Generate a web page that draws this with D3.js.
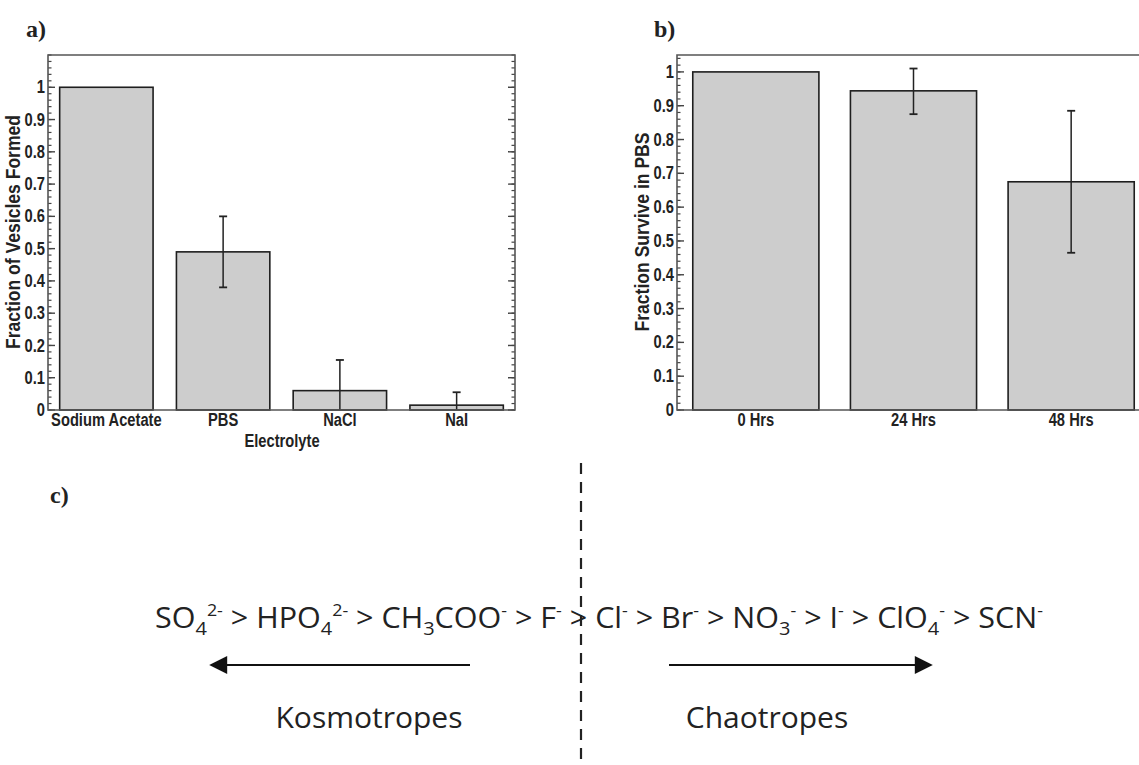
<!DOCTYPE html>
<html>
<head>
<meta charset="utf-8">
<script src="https://cdn.jsdelivr.net/npm/d3@7"></script>
<style>
  body { margin: 0; background: #fff; }
  svg text { fill: #222; }
</style>
</head>
<body>
<svg id="chart" width="1139" height="765"></svg>
<script>
// panel a data
var electrolytes = ["Sodium Acetate", "PBS", "NaCl", "NaI"];
var vesicleFrac = [1.0, 0.49, 0.06, 0.015];
var vesicleErrLo = [1.0, 0.38, 0.0, 0.0];
var vesicleErrHi = [1.0, 0.60, 0.155, 0.055];

// panel b data
var times = ["0 Hrs", "24 Hrs", "48 Hrs"];
var surviveFrac = [1.0, 0.944, 0.675];
var surviveErrLo = [1.0, 0.875, 0.465];
var surviveErrHi = [1.0, 1.01, 0.885];

// panel c series: [base, sub, sup]
var ionsLeft = [["SO", "4", "2-"], ["HPO", "4", "2-"], ["CH", "3", ""], ["COO", "", "-"], ["F", "", "-"]];
var ionsRight = [["Cl", "", "-"], ["Br", "", "-"], ["NO", "3", "-"], ["I", "", "-"], ["ClO", "4", "-"], ["SCN", "", "-"]];

var svg = d3.select("#chart");
var axisFont = "'Liberation Sans', Arial, sans-serif";
var squeeze = 0.84;   // narrow helvetica look

function barPanel(opt) {
    var g = svg.append("g");
    var x = d3.scaleBand().domain(opt.cats).range([opt.left, opt.right])
        .paddingInner(0.2).paddingOuter(0.1);
    var y = d3.scaleLinear().domain([0, opt.ymax]).range([opt.bottom, opt.top]);

    // bars
    g.selectAll("rect.bar").data(opt.vals).enter().append("rect")
        .attr("class", "bar")
        .attr("x", function(d, i){ return x(opt.cats[i]); })
        .attr("y", function(d){ return y(d); })
        .attr("width", x.bandwidth())
        .attr("height", function(d){ return y(0) - y(d); })
        .attr("fill", "#cdcdcd")
        .attr("stroke", "#1e1e1e")
        .attr("stroke-width", 1.6);

    // error bars
    opt.vals.forEach(function(v, i){
        var lo = opt.lo[i], hi = opt.hi[i];
        if (hi - lo < 0.001) return;
        var cx = x(opt.cats[i]) + x.bandwidth() / 2;
        g.append("line").attr("x1", cx).attr("x2", cx)
            .attr("y1", y(lo)).attr("y2", y(hi))
            .attr("stroke", "#222").attr("stroke-width", 1.5);
        [lo, hi].forEach(function(e){
            if (e <= 0) return;
            g.append("line").attr("x1", cx - 4).attr("x2", cx + 4)
                .attr("y1", y(e)).attr("y2", y(e))
                .attr("stroke", "#222").attr("stroke-width", 1.8);
        });
    });

    // minor + major ticks, left and right
    var minor = d3.range(0, opt.ymax + 0.0001, 0.02);
    var major = d3.range(0, 1.0001, 0.1);
    [opt.left, opt.right].forEach(function(px, side){
        var dir = side === 0 ? 1 : -1;
        g.selectAll(null).data(minor).enter().append("line")
            .attr("x1", px).attr("x2", px + dir * 3.5)
            .attr("y1", function(d){ return y(d); }).attr("y2", function(d){ return y(d); })
            .attr("stroke", "#444").attr("stroke-width", 1.2);
        g.selectAll(null).data(major).enter().append("line")
            .attr("x1", px).attr("x2", px + dir * 7)
            .attr("y1", function(d){ return y(d); }).attr("y2", function(d){ return y(d); })
            .attr("stroke", "#444").attr("stroke-width", 1.4);
    });

    // y axis labels
    var ax = g.append("g").attr("transform", "translate(" + opt.left + ",0)")
        .call(d3.axisLeft(y).tickValues(major).tickSize(0).tickPadding(3)
            .tickFormat(function(d){ return d3.format("~g")(+d.toFixed(2)); }));
    ax.select(".domain").remove();
    ax.selectAll("text").attr("font-family", axisFont).attr("font-weight", "bold")
        .attr("font-size", 17.5).attr("fill", "#222")
        .attr("transform", "scale(" + squeeze + ",1)")
        .attr("x", -3 / squeeze);

    // x labels
    var bx = g.append("g").attr("transform", "translate(0," + opt.bottom + ")")
        .call(d3.axisBottom(x).tickSize(0).tickPadding(4));
    bx.select(".domain").remove();
    bx.selectAll("text").attr("font-family", axisFont).attr("font-weight", "bold")
        .attr("font-size", 17.5).attr("fill", "#222")
        .attr("transform", "scale(" + squeeze + ",1)");

    // frame
    g.append("path")
        .attr("d", "M" + opt.left + "," + opt.bottom + "V" + opt.top + "H" + opt.right + "V" + opt.bottom + "Z")
        .attr("fill", "none").attr("stroke", "#555").attr("stroke-width", 1.6);

    // y title
    g.append("text")
        .attr("transform", "translate(" + opt.titleX + "," + opt.titleY + ") rotate(-90) scale(0.9,1)")
        .attr("text-anchor", "middle")
        .attr("font-family", axisFont).attr("font-weight", "bold").attr("font-size", 19.5)
        .text(opt.ytitle);

    if (opt.xtitle) {
        g.append("text").attr("transform", "translate(" + opt.xtitleX + "," + (opt.bottom + 37) + ") scale(" + squeeze + ",1)")
            .attr("text-anchor", "middle")
            .attr("font-family", axisFont).attr("font-weight", "bold").attr("font-size", 17.5)
            .text(opt.xtitle);
    }
}

barPanel({cats: electrolytes, vals: vesicleFrac, lo: vesicleErrLo, hi: vesicleErrHi,
    left: 48, right: 515, top: 55, bottom: 410, ymax: 1.1,
    ytitle: "Fraction of Vesicles Formed", titleX: 20, titleY: 232, xtitle: "Electrolyte", xtitleX: 282});

barPanel({cats: times, vals: surviveFrac, lo: surviveErrLo, hi: surviveErrHi,
    left: 677, right: 1150, top: 55, bottom: 410, ymax: 1.05,
    ytitle: "Fraction Survive in PBS", titleX: 649, titleY: 232});

// panel labels
[["a)", 26, 37], ["b)", 654, 37], ["c)", 50, 503]].forEach(function(p){
    svg.append("text").attr("x", p[1]).attr("y", p[2])
        .attr("font-family", "'Liberation Serif', 'Times New Roman', serif")
        .attr("font-weight", "bold").attr("font-size", 24).attr("fill", "#111")
        .text(p[0]);
});

// panel c: Hofmeister series
var cFont = "'Open Sans', 'Noto Sans', sans-serif";
var dashX = 581;
svg.append("line").attr("x1", dashX).attr("x2", dashX).attr("y1", 463).attr("y2", 765)
    .attr("stroke", "#222").attr("stroke-width", 2.2).attr("stroke-dasharray", "11,8");

var series = svg.append("text").attr("y", 628)
    .attr("font-family", cFont).attr("font-size", 29).attr("fill", "#222")
    .attr("textLength", 888).attr("lengthAdjust", "spacingAndGlyphs")
    .attr("x", 155);

var pendingDy = 0;
function put(str, size, dy) {
    var t = series.append("tspan").text(str).attr("dy", pendingDy + dy);
    if (size) t.attr("font-size", size);
    pendingDy = -dy;
}
function addIon(ion) {
    put(ion[0], null, 0);
    if (ion[1]) put(ion[1], 19, 7);
    if (ion[2]) put(ion[2], 17, -12);
}
ionsLeft.forEach(function(ion, i){
    addIon(ion);
    if (i !== 2) put(" > ", null, 0);
});
ionsRight.forEach(function(ion, i){
    addIon(ion);
    if (i < ionsRight.length - 1) put(" > ", null, 0);
});

// arrows
svg.append("defs").append("marker").attr("id", "head")
    .attr("viewBox", "0 0 10 10").attr("refX", 9).attr("refY", 5)
    .attr("markerWidth", 22).attr("markerHeight", 18).attr("markerUnits", "userSpaceOnUse")
    .attr("orient", "auto")
    .append("path").attr("d", "M0,0L10,5L0,10Z").attr("fill", "#111");

[[470, 211], [669, 931]].forEach(function(a){
    svg.append("line").attr("x1", a[0]).attr("x2", a[1]).attr("y1", 665).attr("y2", 665)
        .attr("stroke", "#111").attr("stroke-width", 2.2).attr("marker-end", "url(#head)");
});

[["Kosmotropes", 369], ["Chaotropes", 767]].forEach(function(t){
    svg.append("text").attr("x", t[1]).attr("y", 728).attr("text-anchor", "middle")
        .attr("font-family", cFont).attr("font-size", 30).attr("fill", "#222")
        .text(t[0]);
});
</script>
</body>
</html>
